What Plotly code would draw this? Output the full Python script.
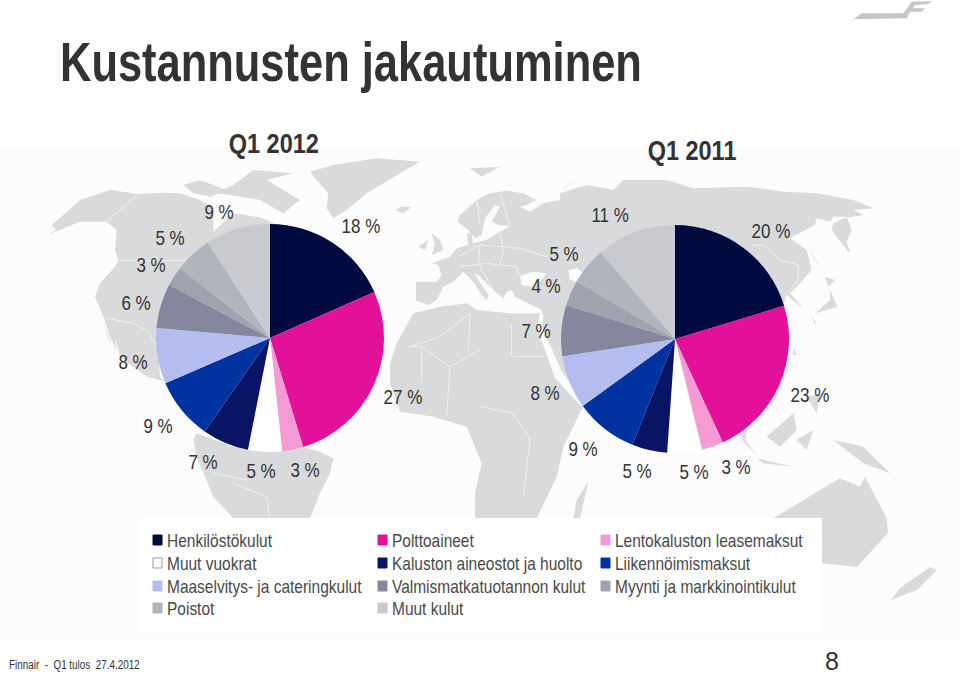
import json
import plotly.graph_objects as go

W, H = 960, 673

categories = ["Henkilöstökulut", "Polttoaineet", "Lentokaluston leasemaksut", "Muut vuokrat",
              "Kaluston aineostot ja huolto", "Liikennöimismaksut", "Maaselvitys- ja cateringkulut",
              "Valmismatkatuotannon kulut", "Myynti ja markkinointikulut", "Poistot", "Muut kulut"]
# Printed labels
labels_2012 = [18, 27, 3, 5, 7, 9, 8, 6, 3, 5, 9]
labels_2011 = [20, 23, 3, 5, 5, 9, 8, 7, 4, 5, 11]
# Slice sizes as read from the drawn wedges
q1_2012 = [18.4, 26.9, 3.0, 4.8, 6.6, 8.8, 7.9, 6.3, 2.8, 5.3, 9.2]
q1_2011 = [20.3, 22.8, 3.1, 4.9, 5.0, 8.9, 7.6, 7.2, 3.6, 5.3, 11.3]
colors = ["#000A3F", "#E3119A", "#F59AD5", "#FFFFFF", "#0A1464", "#0033A0", "#B4BCF0",
          "#84879E", "#A0A2B0", "#B1B3BD", "#C9CACF"]

FONT = "Liberation Sans, Arial"
LAND = "#D9DADC"
LINE = "#F0F0F2"

def px(x, y):
    return x / W, 1 - y / H

def Z(ox, oy, pts):
    return [(ox + x / 3, oy + y / 3) for x, y in pts]

def path(points, close=True):
    s = ""
    for i, (x, y) in enumerate(points):
        fx, fy = px(x, y)
        s += ("M" if i == 0 else "L") + f"{fx:.5f},{fy:.5f} "
    return s + ("Z" if close else "")

# Decorative background map outlines, in picture pixels via the zoom crops they were traced from
L0 = lambda p: Z(0, 130, p)      # left half crop
R0 = lambda p: Z(480, 130, p)    # right half crop
A = lambda p: Z(400, 150, p)     # Europe crop
B = lambda p: Z(0, 150, p)       # North America crop
C = lambda p: Z(740, 180, p)     # East Asia crop

eurasia = (
    A([(48,452),(48,395),(110,395),(125,375),(115,345),(95,340),(150,320),(170,295),(205,285),(200,250),(215,250),
       (218,280),(260,270),(300,245),(330,228),(295,225),(275,215),(300,170),(285,165),(255,205),(245,255),(225,265),
       (205,240),(172,215),(180,195),(230,150),(270,130),(320,122),(370,130),(410,150),(380,165),(360,170),(390,185),
       (430,160),(480,150)])
    + R0([(240,190),(270,180),(320,165),(350,170),(400,180),(430,150),(560,150),(640,175),(800,170)])
    + C([(60,25),(130,35),(230,40),(340,60),(400,85),(340,90),(370,105),(310,115),(280,130),(275,150),(325,215),
         (330,215),(320,185),(335,150),(320,110),(280,110),(270,125),(230,115),(225,135),(150,175),(200,210),(215,270),
         (180,310),(150,340),(195,390),(165,365),(140,345),(130,375),(150,470),(125,600)])
    + [(775, 400), (750, 418), (745, 440), (757, 456), (738, 430), (700, 425), (640, 440), (586, 404), (562, 372), (542, 327)]
    + A([(430,500),(425,480),(345,440),(335,420),(320,425),(310,445),(285,425),(235,375),(222,370),(265,435),(260,450),
         (245,435),(220,395),(190,365),(160,395),(130,410),(110,450),(85,465)])
)

land = [
    # North America
    B([(125,262),(170,240),(155,225),(190,195),(240,150),(330,120),(415,132),(490,128),(540,130),(600,150),(640,175)])
    + L0([(640,305),(700,250),(780,262),(835,285),(800,400),(600,500),(470,600),(480,740),(495,755),(440,740),
          (360,680),(345,620)])
    + B([(350,600),(330,560),(312,505),(285,440),(300,400),(345,350),(355,330),(345,300),(350,240),(320,215),(240,215)]),
    # Baja
    B([(310,510),(322,560),(342,600),(325,560)]),
    # Arctic islands
    B([(550,105),(600,90),(680,120),(630,140),(580,130)]),
    L0([(640,190),(700,165),(760,120),(880,130),(800,150),(900,210),(850,250),(780,210),(690,195)]),
    # Greenland
    L0([(930,125),(1000,105),(1130,85),(1260,95),(1200,130),(1100,190),(1040,240),(1000,265),(980,235),(985,190),(950,150)]),
    # Iceland
    A([(-15,180),(5,170),(35,170),(10,190)]),
    # Great Britain, Ireland
    A([(95,250),(120,270),(130,300),(95,315),(105,285)]),
    A([(55,290),(85,270),(75,300)]),
    # Svalbard, Novaya Zemlya
    A([(210,55),(300,50),(245,80)]),
    A([(480,120),(550,80),(500,110)]),
    # South America
    L0([(590,910),(700,950),(905,950),(960,965),(1000,985),(990,1030),(960,1090),(930,1165),(700,1165),(640,1100),(590,980),(580,930)]),
    # Africa
    L0([(1170,700),(1190,640),(1240,550),(1320,530),(1400,520)])
    + A([(230,480),(330,490),(420,490),(410,530)])
    + [(555, 378), (580, 405), (583, 407)]
    + R0([(250,950),(230,1040),(170,1165)])
    + L0([(1425,1165),(1425,1090),(1445,1000),(1400,890),(1300,860),(1200,845),(1170,760)]),
    # Madagascar
    R0([(300,1165),(325,1055),(290,1110),(280,1165)]),
    # Eurasia
    eurasia,
    # Sakhalin, Hokkaido, Honshu, Kyushu, Taiwan
    C([(200,200),(245,270),(225,235)]),
    C([(255,290),(285,300),(265,320)]),
    C([(270,330),(292,380),(225,400),(270,360)]),
    C([(215,410),(230,430),(222,430)]),
    C([(160,505),(170,525),(158,525)]),
    # Sumatra, Borneo, Sulawesi, Philippines, Java, New Guinea
    R0([(780,910),(830,975),(790,935)]),
    R0([(860,920),(940,850),(950,900),(900,950)]),
    R0([(950,930),(1000,900),(980,960)]),
    R0([(980,800),(1020,790),(1010,850)]),
    R0([(830,985),(940,1010),(850,1000)]),
    R0([(1060,930),(1150,950),(1230,1030),(1150,1000)]),
    # Australia
    R0([(880,1165),(1020,1080),(1080,1045),(1140,1070),(1155,1040),(1220,1165)])
    + [(888, 533), (857, 567), (820, 563), (773, 518)],
    # New Zealand
    [(937, 570), (917, 590), (891, 600), (900, 588), (930, 567)],
]
# Seas cut out of the land
seas = [
    A([(360,378),(400,365),(440,370),(420,395),(395,410),(365,405)]),
    A([(505,360),(530,355),(552,368),(530,395),(510,390)]),
]
borders = [
    B([(355,332),(555,332)]),
    B([(415,132),(320,215)]),
    B([(320,505),(400,520),(445,545),(470,590)]),
    L0([(1220,650),(1265,650),(1350,710),(1440,660)]),
    L0([(1265,650),(1265,760)]),
    L0([(1350,710),(1340,860)]),
    R0([(95,580),(95,680),(190,680)]),
    R0([(0,830),(100,850),(150,930),(130,1100)]),
    L0([(700,1060),(800,1100),(810,1165)]),
    L0([(640,1030),(740,1050)]),
    A([(175,320),(240,285),(305,290),(360,295),(440,320)]),
    A([(180,350),(260,340),(350,350),(355,375)]),
    A([(240,285),(235,340),(280,420)]),
    A([(300,250),(310,300),(300,345)]),
    A([(230,150),(240,220)]),
    A([(300,130),(330,225)]),
    A([(30,590),(120,560),(210,490)]),
    A([(210,490),(205,600)]),
    C([(30,195),(70,195),(120,240),(175,255),(175,300),(140,340)]),
]

shapes = [dict(type="rect", xref="paper", yref="paper", x0=0, x1=1, y0=1 - 640 / H, y1=1 - 148 / H,
               fillcolor="#FCFCFC", line_width=0, layer="below")]
for poly in land:
    shapes.append(dict(type="path", xref="paper", yref="paper", path=path(poly),
                       fillcolor=LAND, line_width=0, layer="below"))
for poly in seas:
    shapes.append(dict(type="path", xref="paper", yref="paper", path=path(poly),
                       fillcolor="#FCFCFC", line_width=0, layer="below"))
for line in borders:
    shapes.append(dict(type="path", xref="paper", yref="paper", path=path(line, False),
                       line=dict(color=LINE, width=1), layer="below"))
# Legend panel
x0, y1 = px(140, 518)
x1, y0 = px(822, 632)
shapes.append(dict(type="rect", xref="paper", yref="paper", x0=x0, x1=x1, y0=y0, y1=y1,
                   fillcolor="#FFFFFF", line_width=0, layer="below"))
# Logo
logo = Z(800, 0, [(160,58),(185,40),(310,40),(335,5),(395,3),(385,12),(345,15),(338,25),(375,25),(365,35),(330,35),(320,55)])
shapes.append(dict(type="path", xref="paper", yref="paper", path=path(logo), fillcolor="#C6C6C6", line_width=0, layer="below"))

annotations = []
squeeze = []
def text(t, x, y, size, color="#333333", anchor="center", bold=False, sx=1.0):
    fx, fy = px(x - (2 if anchor == "left" else 0), y)
    annotations.append(dict(text=f"<b>{t}</b>" if bold else t, x=fx, y=fy, xref="paper", yref="paper",
                            showarrow=False, xanchor=anchor, yanchor="middle",
                            font=dict(size=size, color=color, family=FONT)))
    squeeze.append([sx, anchor == "left"])

text("Kustannusten jakautuminen", 60, 61, 56, anchor="left", bold=True, sx=0.776)
text("Q1 2012", 274, 144, 27, bold=True, sx=0.87)
text("Q1 2011", 692, 151, 27, bold=True, sx=0.87)

pos_2012 = [(361,226),(403,396),(305,469),(261,471),(203,461),(158,425),(133,361),(136,302),(151,265),(170,237),(219,211)]
pos_2011 = [(771,230),(810,394),(736,466),(694,472),(637,470),(583,448),(545,392),(536,330),(546,285),(564,253),(610,214)]
for v, (x, y) in zip(labels_2012, pos_2012):
    text(f"{v} %", x, y, 21, sx=0.81)
for v, (x, y) in zip(labels_2011, pos_2011):
    text(f"{v} %", x, y, 21, sx=0.81)

# Legend entries
col_x = [153, 378, 601]
row_y = [540, 563, 586, 608]
for i, (name, c) in enumerate(zip(categories, colors)):
    col, row = i % 3, i // 3
    if i >= 9:
        col, row = i - 9, 3
    lx, ly = col_x[col], row_y[row]
    a, b = px(lx, ly - 5)
    d, e = px(lx + 9, ly + 5)
    shapes.append(dict(type="rect", xref="paper", yref="paper", x0=a, x1=d, y0=e, y1=b, fillcolor=c,
                       line=dict(color="#999999" if c == "#FFFFFF" else c, width=1), layer="below"))
    text(name, lx + 14, ly, 19, color="#4A4A4A", anchor="left", sx=0.815)

text("Finnair  -  Q1 tulos  27.4.2012", 9, 665, 12.5, anchor="left", sx=0.79)
text("8", 832, 661, 25)

def dom(x0, x1, ytop, ybot):
    return dict(x=[x0 / W, x1 / W], y=[1 - ybot / H, 1 - ytop / H])

fig = go.Figure()
for vals, d, nm in [(q1_2012, dom(156, 384, 224, 452), "Q1 2012"), (q1_2011, dom(561, 789, 225, 453), "Q1 2011")]:
    fig.add_trace(go.Pie(labels=categories, values=vals, sort=False, direction="clockwise", rotation=0,
                         marker=dict(colors=colors, line=dict(width=0)), textinfo="none", domain=d,
                         name=nm, showlegend=False, hole=0))
fig.update_layout(width=W, height=H, margin=dict(l=0, r=0, t=0, b=0), paper_bgcolor="#FFFFFF",
                  plot_bgcolor="#FFFFFF", shapes=shapes, annotations=annotations, showlegend=False)

post = """
document.body.style.margin = '0';
document.documentElement.style.overflow = 'hidden';
var sq = %s;
var nodes = document.querySelectorAll('.annotation-text');
nodes.forEach(function (t, i) {
  var w = t.getComputedTextLength();
  var s = sq[i][0];
  if (s === 1) { return; }
  t.setAttribute('textLength', (w * s).toFixed(1));
  t.setAttribute('lengthAdjust', 'spacingAndGlyphs');
  if (sq[i][1]) {
    t.setAttribute('x', parseFloat(t.getAttribute('x')) - w * (1 - s) / 2);
  }
});
""" % json.dumps(squeeze)
fig.write_html("out.html", post_script=post, config=dict(displayModeBar=False))
